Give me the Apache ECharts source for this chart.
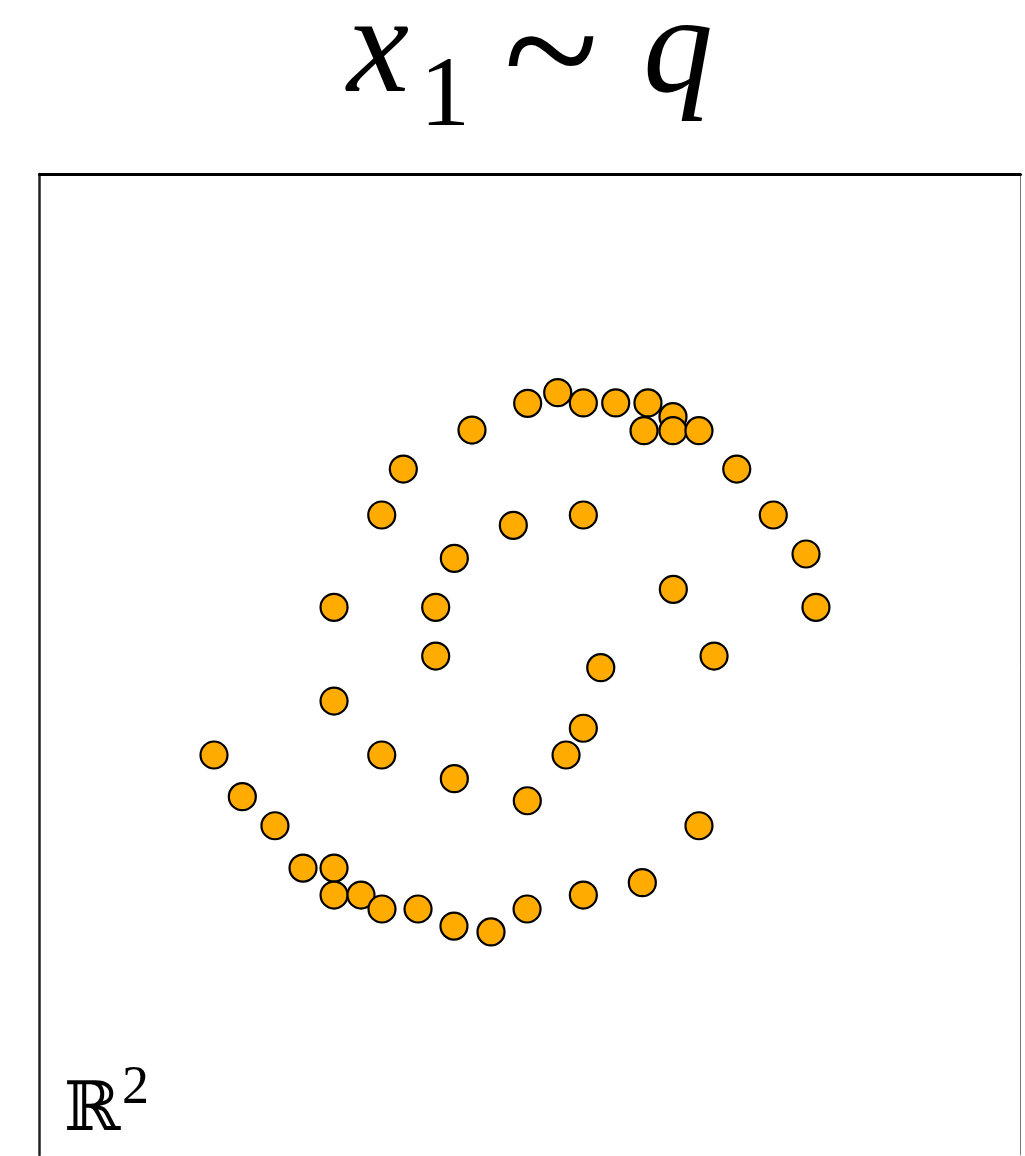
<!DOCTYPE html>
<html>
<head>
<meta charset="utf-8">
<script src="https://cdn.jsdelivr.net/npm/echarts@6/dist/echarts.min.js"></script>
<style>
  html, body { margin: 0; padding: 0; background: #fff; overflow: hidden; }
  #chart { width: 1025px; height: 1156px; }
</style>
</head>
<body>
<div id="chart"></div>
<script>
  // sample points x1 ~ q
  var xs = [1.166, 0.226, -0.019, 0.435, 0.699, 0.962, 0.930, 1.166, 1.378, -0.473,
    -1.033, 1.686, -1.209, -0.136, 0.435, 1.984, -0.617, 2.251, -1.598, -0.769,
    1.169, 2.332, -0.769, 0.577, 1.501, -1.598, 0.435, -2.577, -1.209, 0.294,
    -0.617, -2.346, -0.022, -2.080, 1.378, -1.851, -1.598, -1.598, -1.378, -1.207,
    -0.913, -0.620, -0.318, -0.024, 0.435, 0.916]
  var ys = [2.021, 2.217, 2.130, 2.133, 2.133, 2.133, 1.907, 1.907, 1.907, 1.912,
    1.594, 1.594, 1.219, 1.135, 1.219, 1.219, 0.866, 0.901, 0.466, 0.466,
    0.613, 0.466, 0.069, -0.026, 0.069, -0.298, -0.520, -0.738, -0.738, -0.738,
    -0.931, -1.078, -1.111, -1.315, -1.315, -1.660, -1.660, -1.880, -1.880, -1.994,
    -1.994, -2.133, -2.181, -1.994, -1.880, -1.779]
  var axisMin = -4
  var axisMax = 4

  var points = []
  for (var i = 0; i < xs.length; i++) {
    points.push([xs[i], ys[i]])
  }

  // one piece of the title / corner label
  function label (text, x, y, size, italic, family, align) {
    return {
      type: 'text',
      silent: true,
      style: {
        text: text,
        x: x,
        y: y,
        fontSize: size,
        fontStyle: italic ? 'italic' : 'normal',
        fontFamily: family,
        fill: '#000',
        align: align || 'left',
        verticalAlign: 'middle',
        textAlign: align || 'left',
        textVerticalAlign: 'middle'
      }
    }
  }

  var myChart = echarts.init(document.getElementById('chart'))
  var serif = 'Liberation Serif'
  var option = {
    backgroundColor: '#fff',
    animation: false,
    graphic: [
      label('x', 347, 54, 140, true, serif),
      label('1', 420, 99, 100, false, serif),
      label('~', 551, 63, 175, false, serif, 'center'),
      label('q', 643, 54, 140, true, serif),
      label('ℝ', 64, 1112, 68, false, 'DejaVu Serif'),
      label('2', 122, 1089, 54, false, serif)
    ],
    grid: {
      left: 39.5,
      right: 4.5,
      top: 174,
      bottom: 1,
      show: false
    },
    xAxis: [{
      type: 'value',
      position: 'top',
      min: axisMin,
      max: axisMax,
      axisLine: {show: true, onZero: false, lineStyle: {color: '#000', width: 3}},
      axisTick: {show: false},
      axisLabel: {show: false},
      splitLine: {show: false}
    }],
    yAxis: [{
      type: 'value',
      position: 'left',
      min: axisMin,
      max: axisMax,
      axisLine: {show: true, onZero: false, lineStyle: {color: '#222', width: 2.5}},
      axisTick: {show: false},
      axisLabel: {show: false},
      splitLine: {show: false}
    }, {
      type: 'value',
      position: 'right',
      min: axisMin,
      max: axisMax,
      axisLine: {show: true, onZero: false, lineStyle: {color: '#777', width: 1}},
      axisTick: {show: false},
      axisLabel: {show: false},
      splitLine: {show: false}
    }],
    series: [{
      type: 'scatter',
      data: points,
      symbol: 'circle',
      symbolSize: 27,
      itemStyle: {
        color: '#ffab00',
        opacity: 1,
        borderColor: '#000',
        borderWidth: 2.2
      },
      emphasis: {disabled: true}
    }]
  }
  myChart.setOption(option, true)
</script>
</body>
</html>
